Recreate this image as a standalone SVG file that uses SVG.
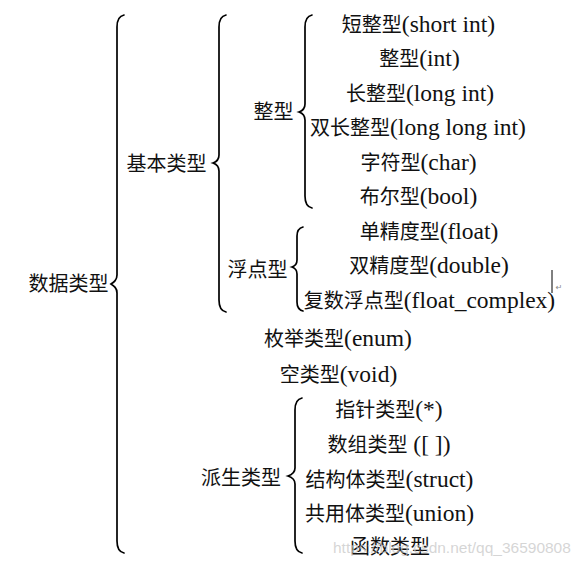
<svg xmlns="http://www.w3.org/2000/svg" width="586" height="566" viewBox="0 0 586 566">
<style>
text{font-family:"Noto Sans CJK SC","Liberation Sans",sans-serif;font-size:20px;fill:#111;text-anchor:middle}
text tspan.en{font-family:"Liberation Serif",serif;font-size:23.5px}
.brace{fill:none;stroke:#000;stroke-width:1.7;stroke-linecap:round}
text.wm{font-family:"Liberation Sans",Arial,sans-serif;font-size:15.5px;fill:#c8c8c8;fill-opacity:0.75;text-anchor:start}
</style>
<rect width="586" height="566" fill="#fff"/>
<g id="connectors">
<path class="brace" d="M124,15 C119,16 117,20 117,27 L117,275 C117,280 114,282 111,284 C114,286 117,288 117,293 L117,541 C117,548 119,552 124,553"/>
<path class="brace" d="M226,15 C221,16 219,20 219,27 L219,155 C219,160 216,162 213,163 C216,164 219,166 219,171 L219,300 C219,307 221,311 226,312"/>
<path class="brace" d="M312,15 C307,16 305,20 305,27 L305,104 C305,109 302,111 299,112 C302,113 305,115 305,120 L305,196 C305,203 307,207 312,208"/>
<path class="brace" d="M303,227 C299,228 297,231 297,236 L297,260 C297,264 295,266 292,267 C295,268 297,270 297,274 L297,302 C297,307 299,310 303,311"/>
<path class="brace" d="M302,398 C297,399 295,403 295,410 L295,468 C295,473 291,475 288,476 C291,477 295,479 295,484 L295,541 C295,548 297,552 302,553"/>
</g>
<g id="n-shuju"><text x="68.5" y="290.5">数据类型</text></g>
<g id="n-jiben"><text x="166.5" y="170.5">基本类型</text></g>
<g id="n-zheng"><text x="273.5" y="118.5">整型</text></g>
<g id="n-fudian"><text x="257.5" y="276.5">浮点型</text></g>
<g id="n-paisheng"><text x="241" y="485">派生类型</text></g>
<g id="n-short"><text x="418.5" y="31.5">短整型<tspan class="en" font-family="Liberation Serif">(short int)</tspan></text></g>
<g id="n-int"><text x="419.5" y="66">整型<tspan class="en" font-family="Liberation Serif">(int)</tspan></text></g>
<g id="n-long"><text x="420" y="100.5">长整型<tspan class="en" font-family="Liberation Serif">(long int)</tspan></text></g>
<g id="n-longlong"><text x="418" y="135">双长整型<tspan class="en" font-family="Liberation Serif">(long long int)</tspan></text></g>
<g id="n-char"><text x="418.5" y="169.5">字符型<tspan class="en" font-family="Liberation Serif">(char)</tspan></text></g>
<g id="n-bool"><text x="418.5" y="204">布尔型<tspan class="en" font-family="Liberation Serif">(bool)</tspan></text></g>
<g id="n-float"><text x="429" y="238.5">单精度型<tspan class="en" font-family="Liberation Serif">(float)</tspan></text></g>
<g id="n-double"><text x="429" y="273">双精度型<tspan class="en" font-family="Liberation Serif">(double)</tspan></text></g>
<g id="n-complex"><text x="429.5" y="307.5">复数浮点型<tspan class="en" font-family="Liberation Serif">(float_complex)</tspan></text></g>
<g id="n-enum"><text x="338" y="345.5">枚举类型<tspan class="en" font-family="Liberation Serif">(enum)</tspan></text></g>
<g id="n-void"><text x="338.5" y="381.5">空类型<tspan class="en" font-family="Liberation Serif">(void)</tspan></text></g>
<g id="n-pointer"><text x="389" y="416.5">指针类型<tspan class="en" font-family="Liberation Serif">(*)</tspan></text></g>
<g id="n-array"><text x="389" y="451.5">数组类型<tspan class="en" font-family="Liberation Serif"> ([ ])</tspan></text></g>
<g id="n-struct"><text x="389.5" y="486.5">结构体类型<tspan class="en" font-family="Liberation Serif">(struct)</tspan></text></g>
<g id="n-union"><text x="389.5" y="520.5">共用体类型<tspan class="en" font-family="Liberation Serif">(union)</tspan></text></g>
<g id="n-func"><text x="390" y="553.5">函数类型</text></g>
<line x1="552" y1="270" x2="552" y2="293" stroke="#000" stroke-width="1"/>
<text x="559" y="290" style="font-family:'DejaVu Sans',sans-serif;font-size:8px;fill:#888">↵</text>
<text class="wm" x="333" y="553">https://blog.csdn.net/qq_36590808</text>
</svg>
